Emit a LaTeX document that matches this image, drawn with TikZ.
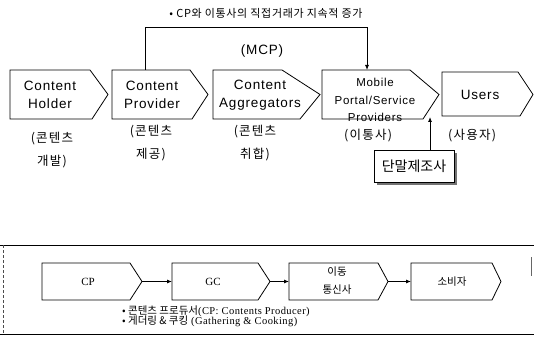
\documentclass[tikz,border=0pt]{standalone}
\usepackage{fontspec}
\setmainfont{Liberation Sans}
\newfontfamily\ensf[LetterSpace=6]{Liberation Sans}
\newfontfamily\krf{Noto Sans CJK KR}
\newfontfamily\krsp[LetterSpace=10]{Noto Sans CJK KR}
\newfontfamily\krtt[LetterSpace=6]{Noto Sans CJK KR}
\newfontfamily\tmsf{Liberation Serif}
\newfontfamily\tmsp[LetterSpace=4]{Liberation Serif}
\usetikzlibrary{arrows.meta,shadows}
\begin{document}
\begin{tikzpicture}[x=1pt,y=-1pt,
  shp/.style={draw=black, line width=0.8pt, line join=miter},
  en/.style={font=\ensf\fontsize{13.5}{18}\selectfont, align=center, inner sep=0pt},
  ensm/.style={font=\ensf\fontsize{11.5}{17.5}\selectfont, align=center, inner sep=0pt},
  krl/.style={font=\krsp\fontsize{12.5}{23}\selectfont, align=center, inner sep=0pt},
  krb/.style={font=\krf\fontsize{10.5}{18}\selectfont, align=center, inner sep=0pt},
  tmb/.style={font=\tmsf\fontsize{11}{12}\selectfont, inner sep=0pt},
  note/.style={font=\fontsize{10.5}{9}\selectfont, anchor=west, inner sep=0pt},
  conn/.style={draw=black, line width=0.8pt, -{Latex[length=5pt,width=4pt]}},
  dmbox/.style={draw=black, line width=0.8pt, fill=white, font=\krf\fontsize{14}{16}\selectfont,
     minimum width=80pt, minimum height=32pt, inner sep=0pt,
     drop shadow={shadow xshift=3pt, shadow yshift=-3pt, fill=black!55, opacity=1}},
]
\useasboundingbox (0,0) rectangle (534,339);

% ---- top row shapes
\draw[shp] (10,70) -- (90,70) -- (108,94.5) -- (92,119) -- (10,119) -- cycle;
\draw[shp] (112,70) -- (190,70) -- (208,94.5) -- (192,119) -- (112,119) -- cycle;
\draw[shp] (213,70) -- (282,70) -- (320,94.5) -- (300,119) -- (213,119) -- cycle;
\draw[shp] (322,70) -- (410,70) -- (439,94.5) -- (423,119) -- (322,119) -- cycle;
\draw[shp] (442,72) -- (518,72) -- (533,94.5) -- (520,116) -- (442,116) -- cycle;

\node[en] (ch) at (50,95) {Content\\Holder};
\node[en] (cpv) at (152,95) {Content\\Provider};
\node[en] (cag) at (260,95) {Content\\Aggregators};
\node[ensm] (mps) at (375,100) {Mobile\\Portal/Service\\Providers};
\node[en] (us) at (480,95) {Users};
\node[en] (mcp) at (262,51) {(MCP)};

\node[krl] (l1) at (52,150) {(콘텐츠\\개발)};
\node[krl] (l2) at (151,143) {(콘텐츠\\제공)};
\node[krl] (l3) at (255,143) {(콘텐츠\\취합)};
\node[krl] (l4) at (368,136) {(이통사)};
\node[krl] (l5) at (472,136) {(사용자)};

\node[font=\krtt\fontsize{11}{12}\selectfont, inner sep=0pt] (ttl) at (266,13) {• CP와 이통사의 직접거래가 지속적 증가};

% bracket connector
\coordinate (b2top) at (145,70);
\coordinate (b4top) at (367,70);
\draw[conn] (b2top) -- ++(0,-43) -| (b4top);

% handset maker
\node[dmbox] (dm) at (414,166) {단말제조사};
\coordinate (b4bot) at (430,117);
\draw[conn] (dm.north -| b4bot) -- (b4bot);

% ---- bottom frame
\draw[line width=0.8pt] (0,245) -- (534,245);
\draw[line width=0.8pt] (0,334) -- (534,334);
\draw[line width=0.6pt, black!70, densely dashed] (3,245) -- (3,334);
\draw[line width=0.6pt, black!60] (531,257) -- (531,276);

% bottom boxes
\draw[shp] (42,263) -- (130,263) -- (142,281.5) -- (130,300) -- (42,300) -- cycle;
\draw[shp] (172,263) -- (258,263) -- (270,281.5) -- (258,300) -- (172,300) -- cycle;
\draw[shp] (289,263) -- (378,263) -- (388,281.5) -- (378,300) -- (289,300) -- cycle;
\draw[shp] (411,263) -- (492,263) -- (501,281.5) -- (492,300) -- (411,300) -- cycle;
\coordinate (cpt) at (142,281.5);
\coordinate (gcl) at (172,281.5);
\coordinate (gct) at (270,281.5);
\coordinate (mtl) at (289,281.5);
\coordinate (mtt) at (388,281.5);
\coordinate (cnl) at (411,281.5);
\draw[conn] (cpt) -- (gcl);
\draw[conn] (gct) -- (mtl);
\draw[conn] (mtt) -- (cnl);

\node[tmb] (cp) at (88,282) {CP};
\node[tmb] (gc) at (213,282) {GC};
\node[krb] (mt) at (337,281) {이동\\통신사};
\node[krb] (cn) at (452,282) {소비자};

\node[note] (n1) at (122,311) {{\krf • 콘텐츠 프로듀서}{\tmsp(CP: Contents Producer)}};
\node[note] (n2) at (122,321) {{\krf • 게더링 \& 쿠킹} {\tmsp(Gathering \& Cooking)}};
\end{tikzpicture}
\end{document}
